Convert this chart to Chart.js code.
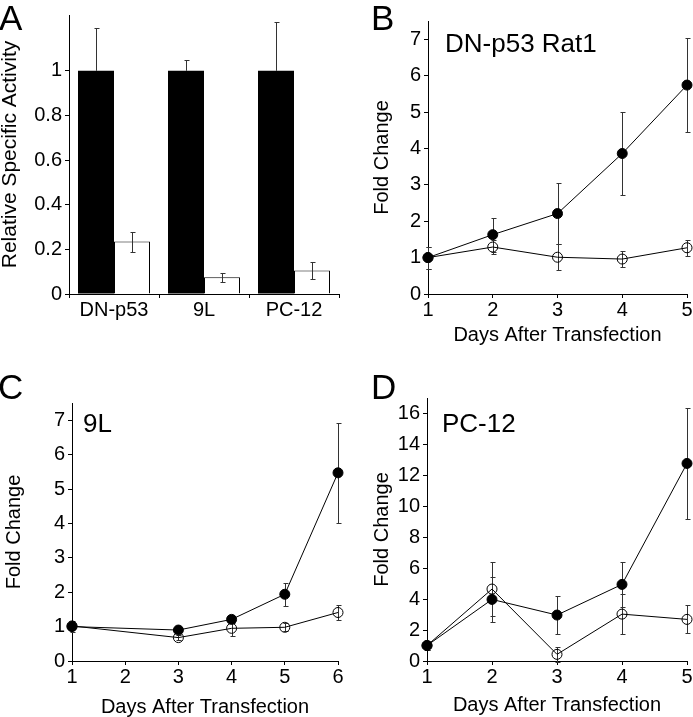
<!DOCTYPE html>
<html>
<head>
<meta charset="utf-8">
<script src="https://cdn.jsdelivr.net/npm/chart.js@4"></script>
<style>
body { margin: 0; background: #fff; }
#wrap { position: relative; width: 693px; height: 717px; overflow: hidden; }
canvas { position: absolute; }
.tag { position: absolute; font: 35px "Liberation Sans", Arial, sans-serif; line-height: 1; color: #000; }
</style>
</head>
<body>
<div id="wrap">
  <canvas id="chartA" width="346" height="340" style="left:0;top:0"></canvas>
  <canvas id="chartB" width="347" height="345" style="left:346px;top:0"></canvas>
  <canvas id="chartC" width="346" height="377" style="left:0;top:340px"></canvas>
  <canvas id="chartD" width="347" height="377" style="left:346px;top:340px"></canvas>
  <div class="tag" style="left:-1px;top:0">A</div>
  <div class="tag" style="left:371px;top:0">B</div>
  <div class="tag" style="left:-2px;top:369px">C</div>
  <div class="tag" style="left:371px;top:369px">D</div>
</div>
<script>
// panel A data
const cellLines = ['DN-p53', '9L', 'PC-12'];
const controlActivity = [1, 1, 1];
const controlErr = [0.19, 0.05, 0.22];
const treatedActivity = [0.235, 0.075, 0.105];
const treatedErr = [0.045, 0.02, 0.04];
const activityTicks = [0, 0.2, 0.4, 0.6, 0.8, 1];

// panel B data (DN-p53 Rat1)
const daysB = [1, 2, 3, 4, 5];
const rat1Filled = [1.0, 1.63, 2.21, 3.86, 5.74];
const rat1FilledErr = [0.3, 0.47, 0.84, 1.14, 1.3];
const rat1Open = [1.0, 1.29, 1.01, 0.96, 1.27];
const rat1OpenErr = [0.3, 0.2, 0.36, 0.22, 0.22];
const foldTicksB = [0, 1, 2, 3, 4, 5, 6, 7];

// panel C data (9L)
const daysC = [1, 3, 4, 5, 6];
const gliomaFilled = [1.0, 0.9, 1.21, 1.94, 5.47];
const gliomaFilledErr = [0.15, 0.05, 0.1, 0.34, 1.46];
const gliomaOpen = [1.02, 0.68, 0.95, 0.98, 1.41];
const gliomaOpenErr = [0.1, 0.07, 0.22, 0.12, 0.23];
const dayTicksC = [1, 2, 3, 4, 5, 6];
const foldTicksC = [0, 1, 2, 3, 4, 5, 6, 7];

// panel D data (PC-12)
const daysD = [1, 2, 3, 4, 5];
const pc12Filled = [1.0, 3.98, 2.97, 4.95, 12.77];
const pc12FilledErr = [0.3, 1.45, 1.2, 1.45, 3.57];
const pc12Open = [1.0, 4.65, 0.43, 3.03, 2.69];
const pc12OpenErr = [0.3, 1.72, 0.5, 1.3, 0.91];
const foldTicksD = [0, 2, 4, 6, 8, 10, 12, 14, 16];

Chart.defaults.font.family = '"Liberation Sans", Arial, sans-serif';
Chart.defaults.color = '#000';
Chart.defaults.animation = false;

const errColor = '#333';

const drawErrors = (chart) => {
    const { ctx, scales: { y } } = chart;
    ctx.save();
    ctx.strokeStyle = errColor;
    ctx.lineWidth = 1;
    chart.data.datasets.forEach((ds, i) => {
        if (!ds.errors) return;
        chart.getDatasetMeta(i).data.forEach((el, j) => {
            const raw = ds.data[j];
            const v = typeof raw === 'object' ? raw.y : raw;
            const e = ds.errors[j];
            const x = Math.round(el.x) + 0.5;
            const top = Math.round(y.getPixelForValue(v + e)) + 0.5;
            const bot = ds.errorUpOnly ? el.y : Math.round(y.getPixelForValue(v - e)) + 0.5;
            ctx.beginPath();
            ctx.moveTo(x, top); ctx.lineTo(x, bot);
            ctx.moveTo(x - 2, top); ctx.lineTo(x + 3, top);
            if (!ds.errorUpOnly) { ctx.moveTo(x - 2, bot); ctx.lineTo(x + 3, bot); }
            ctx.stroke();
        });
    });
    ctx.restore();
};

const errorBars = {
    id: 'errorBars',
    beforeDatasetsDraw(chart, args, options) {
        if (options.layer === 'under') drawErrors(chart);
    },
    afterDatasetsDraw(chart, args, options) {
        if (options.layer !== 'under') drawErrors(chart);
    }
};

const panelTitle = {
    id: 'panelTitle',
    afterDraw(chart, args, options) {
        if (!options.text) return;
        const { ctx, chartArea: { left, top } } = chart;
        ctx.save();
        ctx.font = '26px "Liberation Sans", Arial, sans-serif';
        ctx.fillStyle = '#000';
        ctx.textBaseline = 'alphabetic';
        ctx.fillText(options.text, left + options.dx, top + options.dy);
        ctx.restore();
    }
};

const axisLook = (tickPad) => ({
    grid: { display: true, drawOnChartArea: false, drawTicks: true, tickLength: 4, color: '#000' },
    border: { display: true, color: '#000', width: 1 },
    ticks: { font: { size: 20 }, padding: tickPad, color: '#000' }
});

const barChart = (ctx) => {
    const yLook = axisLook(3);
    const xLook = axisLook(0);
    return new Chart(ctx, {
        type: 'bar',
        data: {
            labels: cellLines,
            datasets: [{
                data: controlActivity,
                backgroundColor: '#000',
                borderColor: '#000',
                borderWidth: 0,
                errors: controlErr,
                errorUpOnly: true
            }, {
                data: treatedActivity,
                backgroundColor: '#fff',
                borderColor: '#000',
                borderWidth: 1,
                errors: treatedErr
            }]
        },
        options: {
            responsive: false,
            categoryPercentage: 0.8,
            barPercentage: 1,
            layout: { padding: { left: 0, right: 7, top: 12, bottom: 0 } },
            scales: {
                x: {
                    ...xLook,
                    afterFit: s => { s.height = 46; }
                },
                y: {
                    ...yLook,
                    ticks: { ...yLook.ticks, callback: v => String(+v.toFixed(1)) },
                    min: 0,
                    max: 1.25,
                    afterBuildTicks: s => { s.ticks = activityTicks.map(v => ({ value: v })); },
                    afterFit: s => { s.width = 69; },
                    title: {
                        display: true,
                        text: 'Relative Specific Activity',
                        font: { size: 21, lineHeight: 1 },
                        padding: { top: 0, bottom: 0 }
                    }
                }
            },
            plugins: {
                legend: { display: false },
                tooltip: { enabled: false },
                errorBars: { layer: 'over' }
            }
        },
        plugins: [errorBars]
    });
};

const series = (days, values, errors, fill) => ({
    data: days.map((d, i) => ({ x: d, y: values[i] })),
    errors: errors,
    borderColor: '#000',
    borderWidth: 1,
    pointRadius: 5,
    pointBorderWidth: 1,
    pointBorderColor: '#000',
    pointBackgroundColor: fill,
    tension: 0,
    clip: false
});

const lineChart = (ctx, o) => {
    const yLook = axisLook(3);
    const xLook = axisLook(0);
    return new Chart(ctx, {
        type: 'line',
        data: {
            datasets: [
                series(o.days, o.filled, o.filledErr, '#000'),
                series(o.days, o.open, o.openErr, 'rgba(0,0,0,0)')
            ]
        },
        options: {
            responsive: false,
            layout: { padding: o.padding },
            scales: {
                x: {
                    ...xLook,
                    type: 'linear',
                    min: o.dayTicks[0],
                    max: o.dayTicks[o.dayTicks.length - 1],
                    afterBuildTicks: s => { s.ticks = o.dayTicks.map(v => ({ value: v })); },
                    afterFit: s => { s.height = o.xHeight; },
                    title: {
                        display: true,
                        text: 'Days After Transfection',
                        font: { size: 20, lineHeight: 1 },
                        padding: { top: 0, bottom: o.xTitlePad }
                    }
                },
                y: {
                    ...yLook,
                    min: 0,
                    max: o.yMax,
                    afterBuildTicks: s => { s.ticks = o.foldTicks.map(v => ({ value: v })); },
                    afterFit: s => { s.width = o.yWidth; },
                    title: {
                        display: true,
                        text: 'Fold Change',
                        font: { size: 20, lineHeight: 1 },
                        padding: { top: o.yTitlePad, bottom: 0 }
                    }
                }
            },
            plugins: {
                legend: { display: false },
                tooltip: { enabled: false },
                errorBars: { layer: 'under' },
                panelTitle: o.title
            }
        },
        plugins: [errorBars, panelTitle]
    });
};

const chartA = barChart(document.getElementById('chartA'));

const chartB = lineChart(document.getElementById('chartB'), {
    days: daysB, filled: rat1Filled, filledErr: rat1FilledErr, open: rat1Open, openErr: rat1OpenErr,
    dayTicks: daysB, foldTicks: foldTicksB, yMax: 7.5,
    padding: { left: 0, right: 6, top: 21, bottom: 0 },
    yWidth: 82, xHeight: 51, yTitlePad: 26.5, xTitlePad: 0,
    title: { text: 'DN-p53 Rat1', dx: 17, dy: 31 }
});

const chartC = lineChart(document.getElementById('chartC'), {
    days: daysC, filled: gliomaFilled, filledErr: gliomaFilledErr, open: gliomaOpen, openErr: gliomaOpenErr,
    dayTicks: dayTicksC, foldTicks: foldTicksC, yMax: 7.5,
    padding: { left: 0, right: 8, top: 63, bottom: 0 },
    yWidth: 72, xHeight: 56, yTitlePad: 4.5, xTitlePad: 0,
    title: { text: '9L', dx: 11, dy: 29 }
});

const chartD = lineChart(document.getElementById('chartD'), {
    days: daysD, filled: pc12Filled, filledErr: pc12FilledErr, open: pc12Open, openErr: pc12OpenErr,
    dayTicks: daysD, foldTicks: foldTicksD, yMax: 17,
    padding: { left: 0, right: 6, top: 58, bottom: 0 },
    yWidth: 81, xHeight: 56, yTitlePad: 26.5, xTitlePad: 2,
    title: { text: 'PC-12', dx: 15, dy: 34 }
});
</script>
</body>
</html>
